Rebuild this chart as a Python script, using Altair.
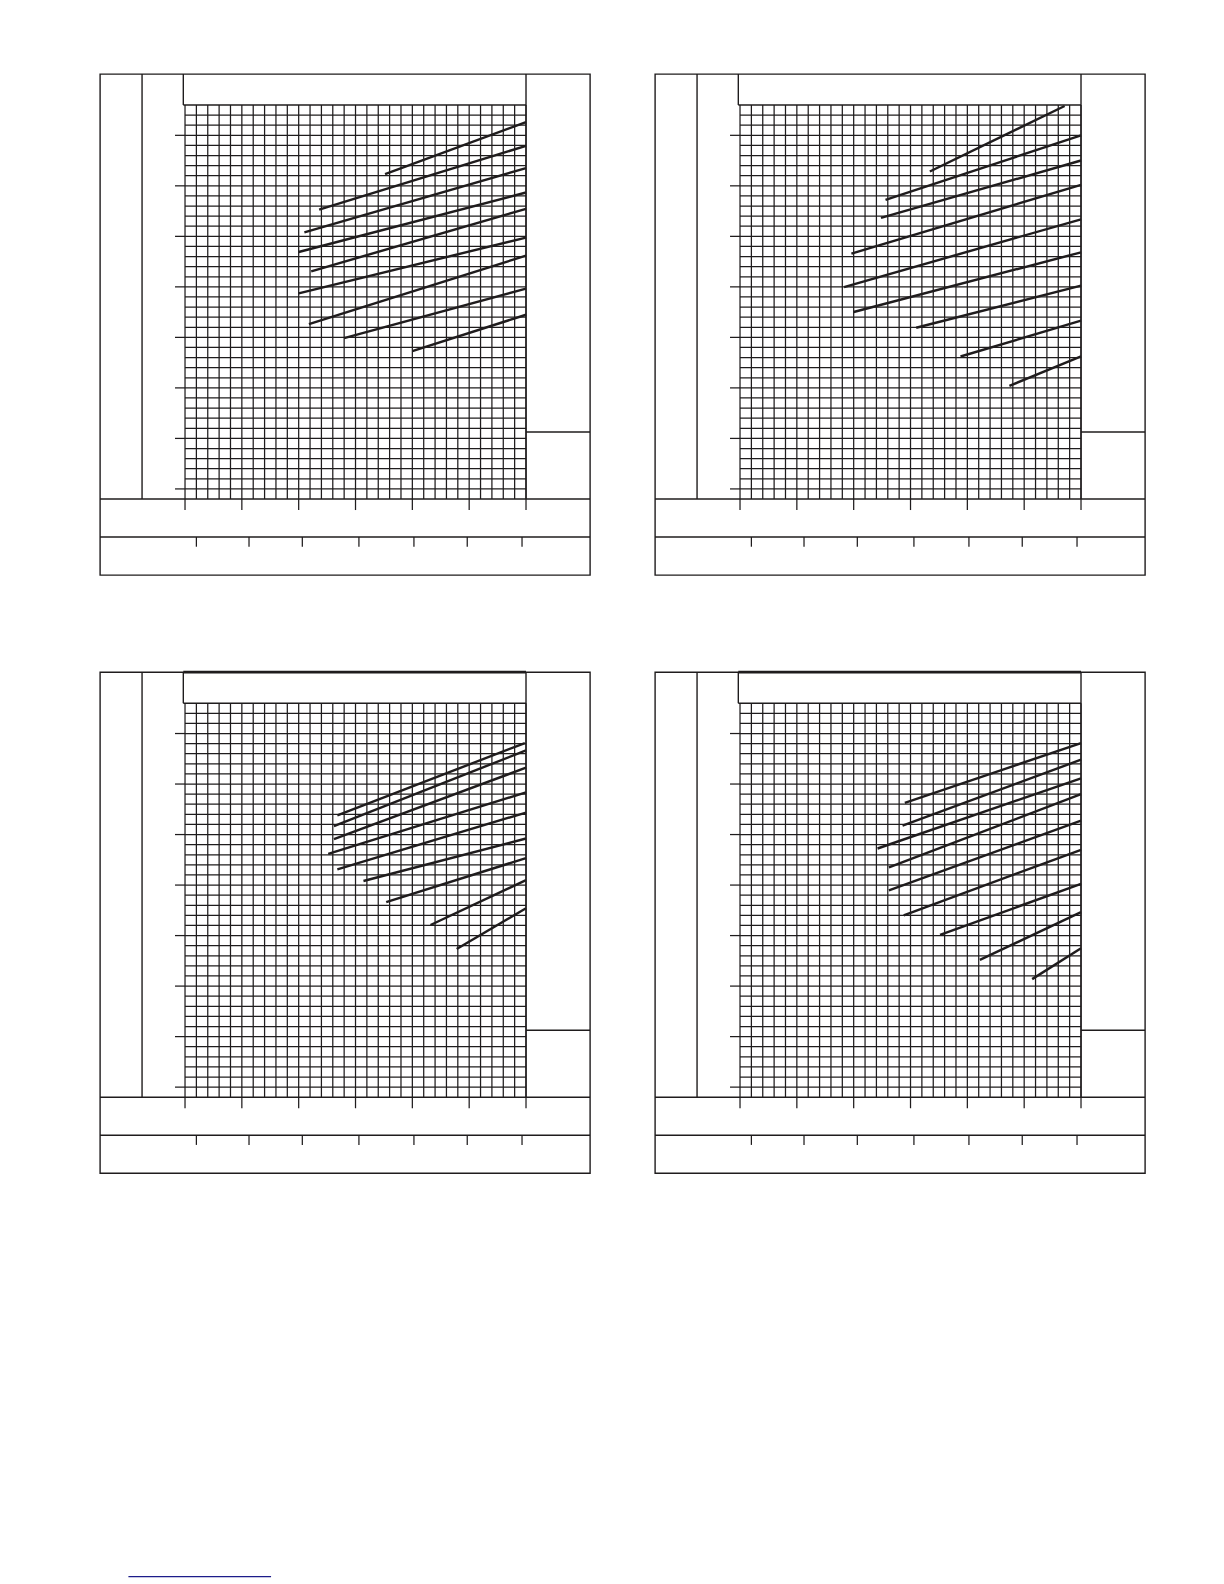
import altair as alt
import pandas as pd

# ---- grid layout, in chart units (30 minor columns, 39 minor rows) ----
X_MINOR = list(range(0, 31))
Y_MINOR = list(range(1, 39))
X_MAJOR = [0, 5, 10, 15, 20, 25, 30]
Y_MAJOR = [1, 6, 11, 16, 21, 26, 31, 36]
X_SECOND = [1.0, 5.63, 10.32, 15.30, 20.14, 24.83, 29.65]

X_DOM = [-7.48, 35.63]
Y_DOM = [-7.52, 42.07]

# ---- curves (start x, start y, end x, end y) ----
P1_X0 = [17.6, 11.8, 10.5, 10.0, 11.1, 10.0, 10.9, 14.0, 20.0]
P1_Y0 = [32.15, 28.65, 26.40, 24.45, 22.54, 20.36, 17.32, 15.93, 14.64]
P1_X1 = [30.0, 30.0, 30.0, 30.0, 30.0, 30.0, 30.0, 30.0, 30.0]
P1_Y1 = [37.31, 34.96, 32.75, 30.34, 28.72, 25.88, 24.09, 20.82, 18.24]

P2_X0 = [16.7, 12.8, 12.4, 9.8, 9.15, 10.0, 15.5, 19.4, 23.7]
P2_Y0 = [32.42, 29.61, 27.83, 24.29, 20.98, 18.51, 16.95, 14.11, 11.20]
P2_X1 = [28.56, 30.0, 30.0, 30.0, 30.0, 30.0, 30.0, 30.0, 30.0]
P2_Y1 = [38.90, 35.99, 33.51, 31.10, 27.69, 24.42, 21.12, 17.65, 14.11]

P3_X0 = [13.4, 13.1, 13.1, 12.6, 13.4, 15.7, 17.7, 21.6, 23.9]
P3_Y0 = [27.91, 26.83, 25.54, 24.09, 22.55, 21.40, 19.32, 17.05, 14.68]
P3_X1 = [29.9, 30.0, 30.0, 30.0, 30.0, 30.0, 30.0, 30.0, 30.0]
P3_Y1 = [35.06, 34.33, 32.62, 30.18, 28.18, 25.61, 23.67, 21.49, 18.70]

P4_X0 = [14.5, 14.3, 12.1, 13.1, 13.1, 14.4, 17.6, 21.1, 25.7]
P4_Y0 = [29.13, 26.89, 24.62, 22.75, 20.47, 18.01, 16.06, 13.59, 11.69]
P4_X1 = [30.0, 30.0, 30.0, 30.0, 30.0, 30.0, 30.0, 30.0, 30.0]
P4_Y1 = [35.06, 33.41, 31.57, 29.99, 27.39, 24.49, 21.13, 18.33, 14.75]

# ---- frame (table borders) in chart units ----
FRAME_X = [-3.78, -0.15, -0.15, 30.0, 30.0, X_DOM[0], X_DOM[0]]
FRAME_X2 = [-3.78, -0.15, 30.0, 30.0, X_DOM[1], X_DOM[1], X_DOM[1]]
FRAME_Y = [0.0, 39.0, 39.0, 0.0, 6.63, 0.0, -3.76]
FRAME_Y2 = [Y_DOM[1], Y_DOM[1], 39.0, Y_DOM[1], 6.63, 0.0, -3.76]

# footer link underline (below the lower-left panel)
LINK_X = [-4.98]
LINK_X2 = [7.57]
LINK_Y = [-47.46]

INK = "#1f1c1d"
W, H = 490, 501


def rules(df, width, color=INK):
    return alt.Chart(df).mark_rule(color=color, strokeWidth=width).encode(
        x=alt.X("x:Q", scale=alt.Scale(domain=X_DOM, nice=False, zero=False), axis=None),
        x2="x2:Q",
        y=alt.Y("y:Q", scale=alt.Scale(domain=Y_DOM, nice=False, zero=False), axis=None),
        y2="y2:Q",
    )


def panel(x0, y0, x1, y1, thick_top=False, link=False):
    vgrid = pd.DataFrame({"x": X_MINOR, "x2": X_MINOR,
                          "y": [0.0] * len(X_MINOR), "y2": [39.0] * len(X_MINOR)})
    hgrid = pd.DataFrame({"x": [0.0] * len(Y_MINOR), "x2": [30.0] * len(Y_MINOR),
                          "y": Y_MINOR, "y2": Y_MINOR})
    yticks = pd.DataFrame({"x": [-0.88] * len(Y_MAJOR), "x2": [0.0] * len(Y_MAJOR),
                           "y": Y_MAJOR, "y2": Y_MAJOR})
    xticks = pd.DataFrame({"x": X_MAJOR, "x2": X_MAJOR,
                           "y": [0.0] * len(X_MAJOR), "y2": [-1.09] * len(X_MAJOR)})
    xticks2 = pd.DataFrame({"x": X_SECOND, "x2": X_SECOND,
                            "y": [-3.76] * len(X_SECOND), "y2": [-4.72] * len(X_SECOND)})
    frame = pd.DataFrame({"x": FRAME_X, "x2": FRAME_X2, "y": FRAME_Y, "y2": FRAME_Y2})
    curves = pd.DataFrame({"x": x0, "y": y0, "x2": x1, "y2": y1})
    layers = [
        rules(vgrid, 1.25),
        rules(hgrid, 1.25),
        rules(yticks, 1.25),
        rules(xticks, 1.25),
        rules(xticks2, 1.25),
        rules(frame, 1.4),
        rules(curves, 2.4),
    ]
    if thick_top:
        top = pd.DataFrame({"x": [-0.15], "x2": [30.0], "y": [Y_DOM[1]], "y2": [Y_DOM[1]]})
        layers.append(rules(top, 2.8))
    if link:
        ln = pd.DataFrame({"x": LINK_X, "x2": LINK_X2, "y": LINK_Y, "y2": LINK_Y})
        layers.append(rules(ln, 1.3, color="#1c1c8a"))
    return alt.layer(*layers).properties(width=W, height=H)


p1 = panel(P1_X0, P1_Y0, P1_X1, P1_Y1)
p2 = panel(P2_X0, P2_Y0, P2_X1, P2_Y1)
p3 = panel(P3_X0, P3_Y0, P3_X1, P3_Y1, thick_top=True, link=True)
p4 = panel(P4_X0, P4_Y0, P4_X1, P4_Y1, thick_top=True)

chart = (
    alt.concat(p1, p2, p3, p4, columns=2, spacing={"row": 97.2, "column": 65}, bounds="flush")
    .properties(padding={"left": 90, "top": 64, "right": 5, "bottom": 5}, background="white")
    .configure_view(stroke=INK, strokeWidth=1.4)
)

chart.save("out.html", embed_options={"renderer": "svg", "actions": False})
